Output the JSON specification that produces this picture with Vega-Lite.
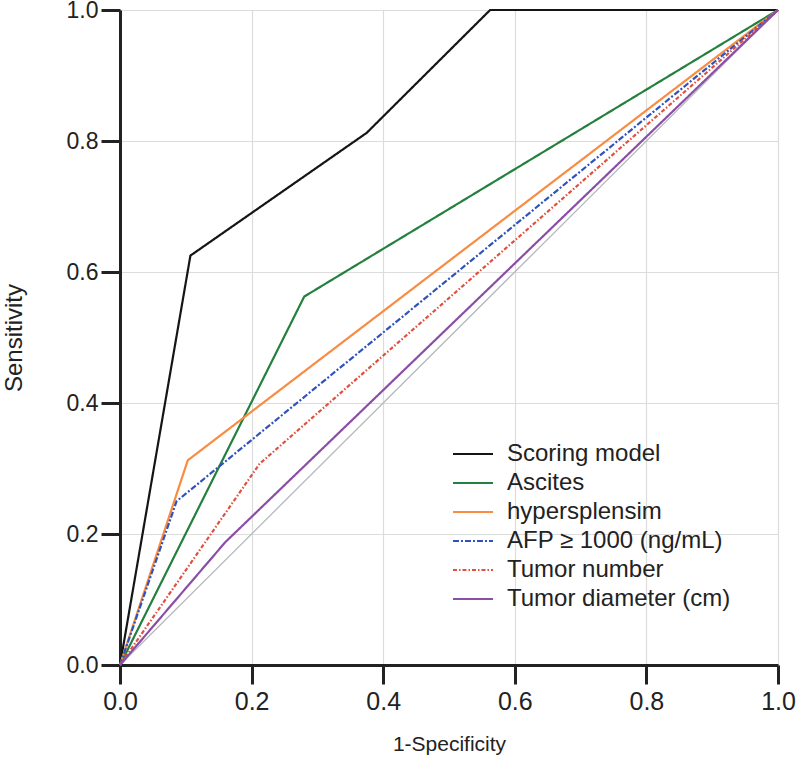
{
  "$schema": "https://vega.github.io/schema/vega-lite/v6.json",
  "width": 658,
  "height": 655,
  "autosize": {"type": "none"},
  "padding": {"left": 120, "top": 10, "right": 22, "bottom": 97},
  "background": "white",
  "config": {
    "view": {"stroke": null},
    "font": "Liberation Sans",
    "axis": {
      "domainColor": "#222222",
      "domainWidth": 3,
      "tickColor": "#222222",
      "tickWidth": 3,
      "tickSize": 19,
      "gridColor": "#dcdcdc",
      "gridWidth": 1.2,
      "labelColor": "#222222",
      "titleColor": "#222222",
      "labelFont": "Liberation Sans",
      "titleFont": "Liberation Sans",
      "titleFontWeight": "normal",
      "labelFlush": false,
      "labelOverlap": false
    }
  },
  "datasets": {
    "roc": [
      {"model": "Scoring model", "x": 0, "y": 0},
      {"model": "Scoring model", "x": 0.107, "y": 0.625},
      {"model": "Scoring model", "x": 0.375, "y": 0.8125},
      {"model": "Scoring model", "x": 0.5625, "y": 1},
      {"model": "Scoring model", "x": 1, "y": 1},
      {"model": "Ascites", "x": 0, "y": 0},
      {"model": "Ascites", "x": 0.28, "y": 0.5625},
      {"model": "Ascites", "x": 1, "y": 1},
      {"model": "hypersplensim", "x": 0, "y": 0},
      {"model": "hypersplensim", "x": 0.103, "y": 0.3125},
      {"model": "hypersplensim", "x": 1, "y": 1},
      {"model": "AFP ≥ 1000 (ng/mL)", "x": 0, "y": 0},
      {"model": "AFP ≥ 1000 (ng/mL)", "x": 0.086, "y": 0.25},
      {"model": "AFP ≥ 1000 (ng/mL)", "x": 1, "y": 1},
      {"model": "Tumor number", "x": 0, "y": 0},
      {"model": "Tumor number", "x": 0.212, "y": 0.307},
      {"model": "Tumor number", "x": 1, "y": 1},
      {"model": "Tumor diameter (cm)", "x": 0, "y": 0},
      {"model": "Tumor diameter (cm)", "x": 0.16, "y": 0.1875},
      {"model": "Tumor diameter (cm)", "x": 1, "y": 1}
    ],
    "diag": [
      {"x": 0, "y": 0},
      {"x": 1, "y": 1}
    ]
  },
  "layer": [
    {
      "data": {"name": "diag"},
      "mark": {"type": "line", "color": "#b5b9bd", "strokeWidth": 1.3},
      "encoding": {
        "x": {
          "field": "x", "type": "quantitative",
          "scale": {"domain": [0, 1], "nice": false, "zero": false},
          "axis": {
            "values": [0, 0.2, 0.4, 0.6, 0.8, 1.0],
            "format": ".1f",
            "title": "1-Specificity",
            "labelFontSize": 25,
            "labelPadding": 5,
            "titleFontSize": 21,
            "titlePadding": 19
          }
        },
        "y": {
          "field": "y", "type": "quantitative",
          "scale": {"domain": [0, 1], "nice": false, "zero": false},
          "axis": {
            "values": [0, 0.2, 0.4, 0.6, 0.8, 1.0],
            "format": ".1f",
            "title": "Sensitivity",
            "labelFontSize": 23,
            "labelPadding": 3,
            "titleFontSize": 24,
            "titlePadding": 40
          }
        }
      }
    },
    {
      "data": {"name": "roc"},
      "mark": {"type": "line"},
      "encoding": {
        "x": {"field": "x", "type": "quantitative"},
        "y": {"field": "y", "type": "quantitative"},
        "color": {
          "field": "model", "type": "nominal",
          "scale": {
            "domain": ["Scoring model", "Ascites", "hypersplensim", "AFP ≥ 1000 (ng/mL)", "Tumor number", "Tumor diameter (cm)"],
            "range": ["#151515", "#24803f", "#f78c42", "#3052bd", "#e0503e", "#8b4ea6"]
          },
          "legend": {
            "title": null,
            "orient": "none",
            "legendX": 332,
            "legendY": 428,
            "padding": 0,
            "labelFontSize": 24,
            "labelColor": "#222222",
            "labelFont": "Liberation Sans",
            "symbolType": "M-1.38,0H1.38",
            "symbolSize": 841,
            "symbolOffset": 5,
            "rowPadding": 1,
            "labelOffset": 18,
            "labelLimit": 400
          }
        },
        "strokeDash": {
          "field": "model", "type": "nominal",
          "scale": {
            "domain": ["Scoring model", "Ascites", "hypersplensim", "AFP ≥ 1000 (ng/mL)", "Tumor number", "Tumor diameter (cm)"],
            "range": [[1, 0], [1, 0], [1, 0], [6, 2, 2, 2], [4, 2, 1.5, 2], [1, 0]]
          },
          "legend": null
        },
        "strokeWidth": {
          "field": "model", "type": "nominal",
          "scale": {
            "domain": ["Scoring model", "Ascites", "hypersplensim", "AFP ≥ 1000 (ng/mL)", "Tumor number", "Tumor diameter (cm)"],
            "range": [2.2, 2.2, 3.2, 2, 2, 3.5]
          },
          "legend": null
        }
      }
    }
  ]
}
